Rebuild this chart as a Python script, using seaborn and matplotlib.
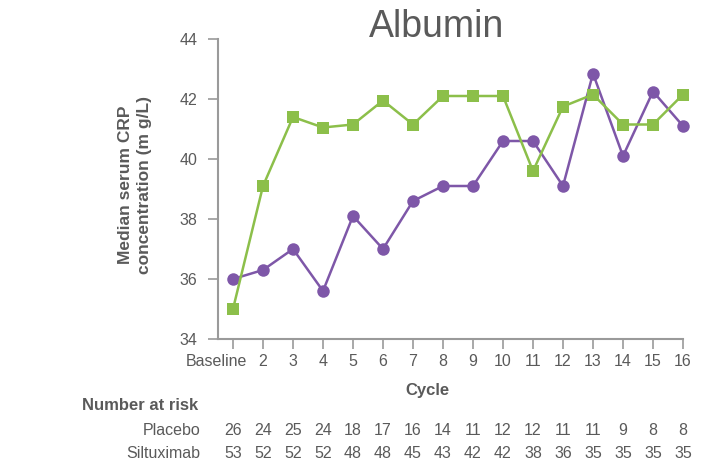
import numpy as np
import pandas as pd
import seaborn as sns
import matplotlib.pyplot as plt
from matplotlib import transforms

# Cycles on the x axis
cycles = ["Baseline", "2", "3", "4", "5", "6", "7", "8", "9", "10",
          "11", "12", "13", "14", "15", "16"]

# Median serum albumin by cycle (g/L)
placebo = [35.0, 39.1, 41.4, 41.05, 41.15, 41.95, 41.15, 42.1, 42.1, 42.1,
           39.6, 41.75, 42.15, 41.15, 41.15, 42.15]
siltuximab = [36.0, 36.3, 37.0, 35.6, 38.1, 37.0, 38.6, 39.1, 39.1, 40.6,
              40.6, 39.1, 42.85, 40.1, 42.25, 41.1]

# Number of patients at risk per cycle
placebo_at_risk = [26, 24, 25, 24, 18, 17, 16, 14, 11, 12, 12, 11, 11, 9, 8, 8]
siltuximab_at_risk = [53, 52, 52, 52, 48, 48, 45, 43, 42, 42, 38, 36, 35, 35, 35, 35]

y_ticks = [34, 36, 38, 40, 42, 44]

GREEN = "#8cbf4a"
PURPLE = "#7e57a8"
TEXT = "#5a5a5a"
SPINE = "#9a9a9a"

sns.set_style("ticks")
plt.rcParams["font.family"] = ["Liberation Sans", "DejaVu Sans"]

pos = np.arange(len(cycles))
df = pd.concat([
    pd.DataFrame({"pos": pos, "value": siltuximab, "group": "Siltuximab"}),
    pd.DataFrame({"pos": pos, "value": placebo, "group": "Placebo"}),
])

W, H = 713, 465
fig = plt.figure(figsize=(W / 100, H / 100), dpi=100)
ax = fig.add_axes([218 / W, 1 - 339 / H, (683 - 218) / W, 300 / H])

sns.lineplot(
    data=df, x="pos", y="value", hue="group", style="group",
    hue_order=["Siltuximab", "Placebo"],
    palette={"Siltuximab": PURPLE, "Placebo": GREEN},
    markers={"Siltuximab": "o", "Placebo": "s"}, dashes=False,
    markersize=9, markeredgewidth=0, linewidth=1.8,
    sort=False, legend=False, ax=ax,
)
for line in ax.lines:
    line.set_clip_on(False)

ax.set_xlim(-0.5, 15)
ax.set_ylim(34, 44)
ax.set_yticks(y_ticks)
ax.set_xticks(pos)
ax.set_xticklabels(cycles)
ax.set_xlabel("")
ax.set_ylabel("")

for side in ("top", "right"):
    ax.spines[side].set_visible(False)
for side in ("left", "bottom"):
    ax.spines[side].set_color(SPINE)
    ax.spines[side].set_linewidth(1.5)
ax.tick_params(axis="both", colors=SPINE, labelcolor=TEXT, labelsize=11.5,
               length=7.5, width=1.2, direction="out")
ax.tick_params(axis="x", pad=3)
ax.tick_params(axis="y", pad=7.5)

# Nudge "Baseline" left so it clears the neighbouring label
shift = transforms.ScaledTranslation(-17 / 100, 0, fig.dpi_scale_trans)
lbl = ax.get_xticklabels()[0]
lbl.set_transform(lbl.get_transform() + shift)

fig.text(437 / W, 1 - 27 / H, "Albumin", ha="center", va="center",
         fontsize=27, color=TEXT)
fig.text(135 / W, 1 - 185 / H, "Median serum CRP\nconcentration (m g/L)",
         ha="center", va="center", rotation=90, fontsize=12.5,
         fontweight="bold", color=TEXT, linespacing=1.35)
fig.text(427 / W, 1 - 390 / H, "Cycle", ha="center", va="center",
         fontsize=12, fontweight="bold", color=TEXT)
fig.text(82 / W, 1 - 405 / H, "Number at risk", ha="left", va="center",
         fontsize=12, fontweight="bold", color=TEXT)

row_tf = transforms.blended_transform_factory(ax.transData, fig.transFigure)
for name, counts, ypix in (("Placebo", placebo_at_risk, 430),
                           ("Siltuximab", siltuximab_at_risk, 453)):
    fig.text(200 / W, 1 - ypix / H, name, ha="right", va="center",
             fontsize=11.5, color=TEXT)
    for x, n in zip(pos, counts):
        ax.text(x, 1 - ypix / H, str(n), transform=row_tf, ha="center",
                va="center", fontsize=11.5, color=TEXT, clip_on=False)

fig.savefig("out.png", dpi=100, facecolor="white")
